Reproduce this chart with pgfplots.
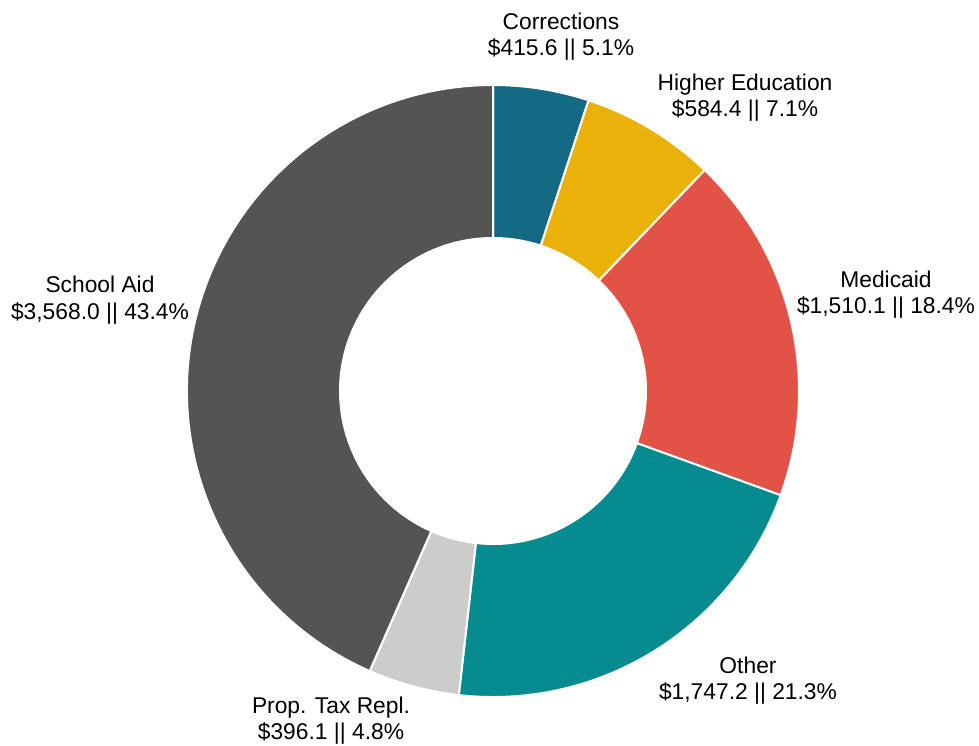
\documentclass[border=0pt]{standalone}
\usepackage{pgfplots}
\pgfplotsset{compat=1.18}
\usepackage{fontspec}
\setmainfont{Liberation Sans}
\definecolor{cCorr}{HTML}{146984}
\definecolor{cHigh}{HTML}{EAB10A}
\definecolor{cMed}{HTML}{E25246}
\definecolor{cOth}{HTML}{068B91}
\definecolor{cProp}{HTML}{CCCCCB}
\definecolor{cSch}{HTML}{545454}
\newcommand\slice[3]{%
  \pgfmathsetmacro\sa{90-360*((#1)/\total)}%
  \pgfmathsetmacro\ea{90-360*((#1+#2)/\total)}%
  \edef\doit{\noexpand\fill[#3, draw=white, line width=1pt, line join=miter] (axis cs:493,391) ++(\sa:153pt) arc[start angle=\sa, end angle=\ea, radius=153pt] -- ++(\ea:-76.5pt) arc[start angle=\ea, end angle=\sa, radius=76.5pt] -- cycle;}%
  \doit}
\newcommand\lab[5]{%
  \node[anchor=base, inner sep=0pt, font=\fontsize{11.4}{13}\selectfont] at (axis cs:#1,#2) {#4};
  \node[anchor=base, inner sep=0pt, font=\fontsize{11.4}{13}\selectfont] at (axis cs:#1,#3) {#5};}
\begin{document}
\begin{tikzpicture}
\path[use as bounding box] (0,0) rectangle (489.5pt,372.5pt);
\pgfmathsetmacro\total{415.6+584.4+1510.1+1747.2+396.1+3568.0}
\begin{axis}[width=489.5pt,height=372.5pt,scale only axis,at={(0,0)},anchor=south west,
  xmin=0,xmax=979,ymin=0,ymax=745,y dir=reverse,hide axis,clip=false]
\slice{0}{415.6}{cCorr}
\slice{415.6}{584.4}{cHigh}
\slice{1000.0}{1510.1}{cMed}
\slice{2510.1}{1747.2}{cOth}
\slice{4257.3}{396.1}{cProp}
\slice{4653.4}{3568.0}{cSch}
\lab{561}{29.5}{55.5}{Corrections}{\$415.6 || 5.1\%}
\lab{745}{90.5}{116.5}{Higher Education}{\$584.4 || 7.1\%}
\lab{886}{287.5}{313.5}{Medicaid}{\$1,510.1 || 18.4\%}
\lab{100}{292.5}{319.5}{School Aid}{\$3,568.0 || 43.4\%}
\lab{748}{673.5}{699.5}{Other}{\$1,747.2 || 21.3\%}
\lab{331}{713.5}{739.5}{Prop. Tax Repl.}{\$396.1 || 4.8\%}
\end{axis}
\end{tikzpicture}
\end{document}
